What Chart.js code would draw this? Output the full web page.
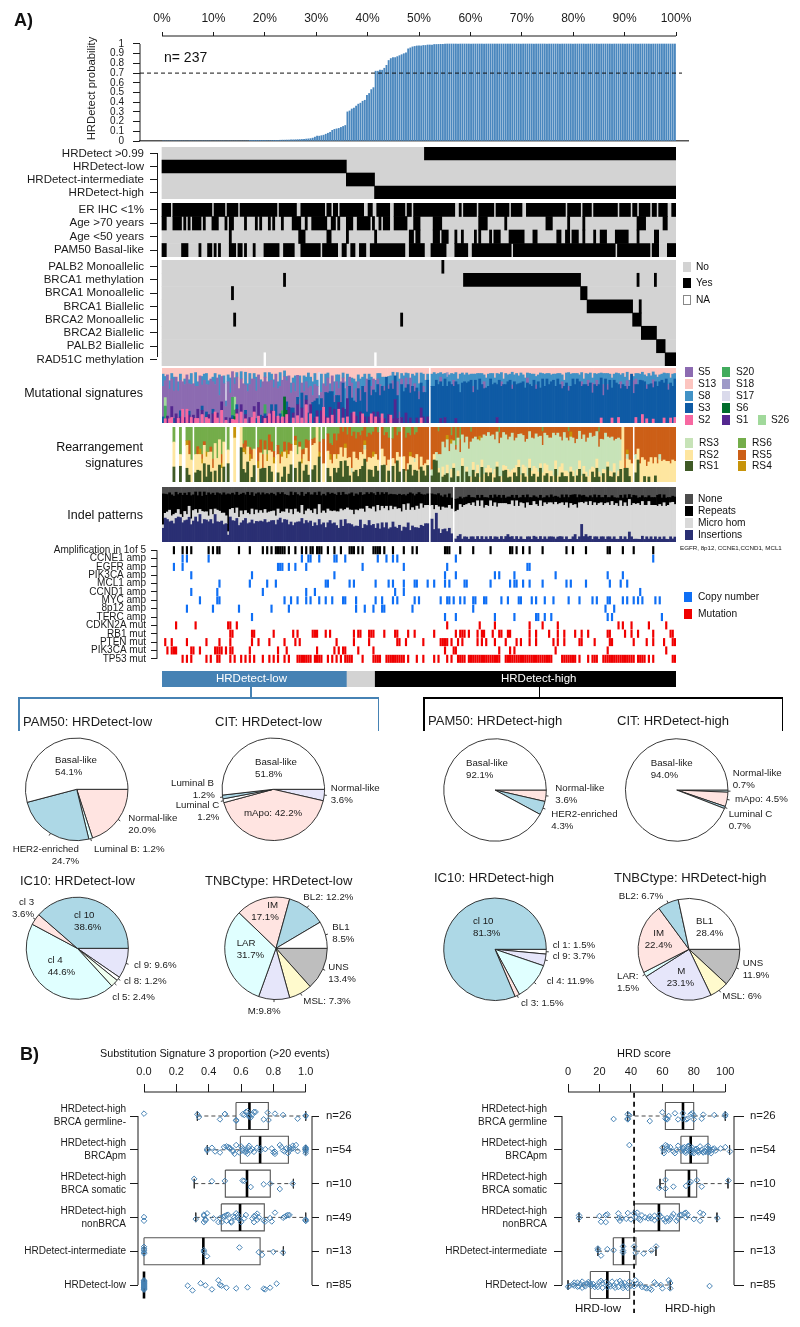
<!DOCTYPE html>
<html><head><meta charset="utf-8">
<style>
html,body{margin:0;padding:0;background:#fff}
#page{position:relative;width:800px;height:1327px;overflow:hidden;font-family:'Liberation Sans',Arial,sans-serif;color:#111}
canvas{position:absolute}
.t{position:absolute;white-space:nowrap;transform:translateY(-50%);line-height:1}
.s{position:absolute;box-sizing:border-box}
</style>
<script src="https://cdn.jsdelivr.net/npm/chart.js@4"></script>
</head><body><div id="page"></div>
<script>
// ===== DATA =====
const pctTicks=[0,10,20,30,40,50,60,70,80,90,100];
const probTicks=[0,.1,.2,.3,.4,.5,.6,.7,.8,.9,1];
const hrdProb=[0,0,0,0,0,0,0,0,0,0,0,0,0,0,0,0,0,0,0,0,0,0,0,0,0,0,0,0,0,0,0,0,0,0,0,0,0,0,0,0,
.001,.001,.002,.002,.003,.003,.004,.004,.005,.005,.006,.007,.007,.008,.008,.009,.009,.01,.01,.011,
.012,.013,.014,.015,.016,.017,.02,.022,.025,.03,.04,.05,.05,.055,.06,.07,.08,.09,.11,.12,
.125,.13,.14,.15,.16,.30,.31,.33,.34,.36,.38,.39,.41,.42,.47,.49,.53,.55,.72,.72,
.73,.73,.75,.78,.83,.85,.86,.86,.87,.88,.89,.90,.91,.95,.96,.97,.975,.98,.98,.98,
.985,.985,.99,.99,.99,.995,.995,.996,.997,.997,
1,1,1,1,1,1,1,1,1,1,
1,1,1,1,1,1,1,1,1,1,
1,1,1,1,1,1,1,1,1,1,
1,1,1,1,1,1,1,1,1,1,
1,1,1,1,1,1,1,1,1,1,
1,1,1,1,1,1,1,1,1,1,
1,1,1,1,1,1,1,1,1,1,
1,1,1,1,1,1,1,1,1,1,
1,1,1,1,1,1,1,1,1,1,
1,1,1,1,1,1,1,1,1,1,
1,1,1,1,1,1,1];

const group1Labels=['HRDetect >0.99','HRDetect-low','HRDetect-intermediate','HRDetect-high'];
const group1Runs=[[[121,237]],[[0,85]],[[85,98]],[[98,237]]];
const group2Labels=['ER IHC <1%','Age >70 years','Age <50 years','PAM50 Basal-like'];
const erRuns=[[0,4],[5,23],[24,29],[30,35],[36,53],[54,62],[64,75],[76,78],[79,81],[82,93],[95,97],[99,105],[107,112],[113,115],[116,135],[137,138],[139,145],[146,153],[154,160],[161,166],[168,186],[187,193],[194,198],[199,210],[211,216],[217,219],[220,225],[226,228],[229,233],[235,237]];
const age70Runs=[[0,2],[5,9],[10,11],[12,13],[14,18],[19,20],[23,26],[29,30],[31,33],[38,39],[43,44],[45,46],[49,50],[51,52],[55,56],[60,64],[66,67],[69,76],[78,80],[81,82],[85,88],[90,96],[97,98],[100,101],[102,105],[107,113],[116,119],[125,129],[146,150],[158,159],[177,180],[187,188],[194,195],[219,223],[231,233]];
const age50Runs=[[31,32],[63,66],[76,78],[85,86],[98,99],[114,116],[117,119],[125,128],[129,132],[135,136],[138,139],[144,145],[146,147],[151,152],[153,156],[160,167],[171,173],[182,184],[186,188],[189,192],[194,195],[199,200],[202,205],[209,215],[219,220],[227,229]];
const pam50Runs=[[0,2],[9,12],[17,18],[21,23],[24,25],[26,27],[31,34],[35,37],[38,39],[42,43],[47,54],[56,61],[64,73],[74,81],[83,85],[87,89],[91,94],[96,112],[114,121],[124,131],[135,141],[143,161],[162,209],[210,225],[226,229],[233,237]];
const group3Labels=['PALB2 Monoallelic','BRCA1 methylation','BRCA1 Monoallelic','BRCA1 Biallelic','BRCA2 Monoallelic','BRCA2 Biallelic','PALB2 Biallelic','RAD51C methylation'];
const group3Runs=[[[129,130]],[[56,57],[139,193],[219,220],[227,228]],[[32,33],[193,196]],[[196,217],[220,221]],[[33,34],[110,111],[217,221]],[[221,228]],[[228,232]],[[232,237]]];
const naRuns=[[47,47.8],[98,98.8]];

// per-column stack heights, one base-36 digit per column (groups of ten columns)
const S2="0101100102 0201011020 1100210301 0011203010 0120100102 0301010200 1020104010 0100201010 0201010010 0010002010 0100010000 0000000001 0000000000 0000000000 0000000000 0000000000 0000000000 0000000000 0000000000 0000000000 0010000100 1000000010 0201001000 0100101";
const S1="0010201010 1020102010 0102010201 0100102010 1010201010 2010102020 1030201010 1102010202 0102030201 0201010102 1010201310 1020100102 1010000010 1000010000 0000000000 0000100000 0000000000 0000000000 0000000000 0000000000 0000000000 0000000000 0000000000 0000000";
const S3="1000010010 0010000010 1001000000 0010100010 0001020100 1020100203 1020301203 3242045231 4135204312 5234164245 4365647350 6457564635 4560687786 7867687586 8675768757 6878678776 7867586787 6786786876 7687568768 7868776867 6785867678 6574868767 7867758686 7786767";
const S5="5467564654 6576475657 5746574654 6574657564 6756475657 4654657543 5463243521 3201313021 2131021302 1201302101 2010102031 1020301010 1000000010 0000100000 0001000010 0000001000 0100000010 0010000000 0000100100 0001001020 1002010000 0100200310 0001002000 0001000";
const S8="2102130210 1012031021 2101203012 1302102031 2013020102 1201302102 1203021312 2123021102 1201320121 1212012021 2120212023 1212021312 2210231212 1212121321 2112131212 2121212121 1312121212 2121312121 1212112321 2112121212 1212121212 2121210112 1212212121 1212121";
const S13="1213121312 2131213121 1312121213 1213131212 1212132121 1312121213 2121312112 1211211212 1121211212 1211112121 1121211111 1111211121 1210111111 1111112111 1111111112 1112111211 1111111211 1121111111 1111121111 1111211121 1111111211 1111121211 1112111121 1111211";
const S20sparse={1:3,32:5,33:2,47:2,55:1};
const S6sparse={56:7,33:1,57:1};
const S26sparse={1:2,33:4};
const S17sparse={29:9,72:5};
const S18sparse={84:1,131:1};

const RS1="0000030040 2310413205 1420204030 4030005324 0132041304 2042013025 1304024102 3052034102 2431541023 1345023142 0340214052 1302413203 2130145201 1201301040 2103120402 1201310231 1021402103 1201301201 0301211021 0130210021 3102031120 1302310124 0010100100 0000000";
const RS2="0000050030 4532324345 4343536353 3434053443 3435250434 4354243354 3543434254 4302345342 3424323243 3432423432 2323212323 2321232322 1212010102 0202101020 1012121211 2112101112 1212212212 1221122221 1212211211 1121211212 2111211121 1210233232 3432343334 3433343";
const RS3="0000000000 0000000000 0000000000 0000000000 0000000000 0000000000 0000000000 0000010000 0000000100 0001000000 0000000000 0000001000 0001102345 4656576765 6576768657 6757667687 7665767566 6757665766 7676576766 6576867667 6567656756 6500100010 0000000001 0000000";
const RS4="0000000000 0100100110 1000000100 0001000110 1000100010 0100010100 0100100010 0010000100 1000100000 0001000100 0000000000 0000100000 0000000000 0101000000 0000001000 0000000000 0000000000 0000000000 0000000010 0000000000 0000000000 0000100000 0000000000 0000000";
const RS5="0000000000 1020102011 0012000200 0000000120 1203241204 2102102032 2101212301 1020425243 3635465745 5463546475 6456475645 5765456476 7668756543 3241312322 2423232312 1213122123 2132212321 2312231222 1212312212 3212232122 1323122232 2306566564 6565756565 5655665";
const RS6="0000030070 2323435464 5647343636 5040000434 3545342342 3424353345 3243543232 2030232341 3201020213 1210212101 1021203021 1021202100 0000000100 0002040300 0010000000 0000010000 0000000000 0000010000 0000000100 0000000000 0100000000 0000000100 0000000000 0000000";
const rsPresent=[[5,6],[8,10],[11,14],[15,28],[28,29],[30,31],[33,34],[36,43],[44,52],[53,60],[61,68],[69,73],[74,75],[76,100],[101,105],[106,110],[111,123],[124,217],[218,237]];

const INS="4a97869a87 78968a7b69 8796a79867 2a78968797 7869787968 7968a79868 6787969786 7696857968 6586978657 6857696857 5767568657 4658475657 6780a5b635 5463012312 2122121212 1212212123 2212121122 1221212122 2122212112 3128232212 2122122121 1212142111 1212121212 1211212";
const MH="1234232312 3242433243 3243245343 1343435234 3435343434 3434243445 4543534545 5464555445 5646466547 6475756867 7686795877 7968786979 7780683a89 89a9099cbc ddcdcdcdcc cdcdcdcdcc ddcdcddcdc dcdcdcdcdd dcdcdddcdc ccdacdccdd cddcddcdcd cdcdcdcdcd dcdcdcdccd cdcddcd";
const REP="9876868678 6758676758 6867568778 b657687768 7667767667 6776877567 7676567667 6756766767 6757657667 6657566665 6565656556 6454665564 5450564654 5454044333 3332323243 3233432323 3232323433 3233232323 3232333434 4433323233 3323323232 3233323332 3233233344 3333223";
const NONE="2332332323 2323323232 3232323323 2323233232 3233232323 2332323332 3233233233 2323332323 3232333233 3233232332 3232333333 3333233323 3330333334 3434044444 4344434344 4343434344 4343443434 4344344343 4344343433 3434344343 4344344344 4343434334 4344344433 4344434";

const ampLabels=['Amplification in 1of 5','CCNE1 amp','EGFR amp','PIK3CA amp','MCL1 amp','CCND1 amp','MYC amp','8p12 amp','TERC amp','CDKN2A mut','RB1 mut','PTEN mut','PIK3CA mut','TP53 mut'];
const ampCols=[
[5,9,11,13,21,23,25,26,35,40,46,48,50,52,53,54,55,56,58,61,64,66,68,69,71,72,73,76,79,82,86,87,88,90,92,97,98,99,100,102,106,111,115,117,130,131,132,137,143,151,160,161,163,166,169,175,186,189,195,205,206,212,217,226],
[9,11,21,64,67,68,72,79,80,84,99,103,106,108,135,226],
[5,9,53,54,55,58,61,66,92,111,131,168,169],
[13,41,79,130,135,153,155,162,181,205,212],
[26,40,48,52,75,76,86,88,98,104,106,111,116,117,122,125,130,132,139,140,151,160,162,163,166,169,175,186,188,195,206,211,214],
[13,25,46,66,70,107,111,220],
[17,25,26,56,59,62,66,68,72,75,78,83,84,89,98,101,106,108,116,118,128,131,132,134,137,139,143,144,148,149,156,159,164,165,170,172,176,180,187,192,198,200,205,206,212,214,217,219,221,227,229],
[11,23,35,50,58,89,93,97,101,102,115,143,204,208],
[41,130,135,153,162,172,173,176,179,205,207,230],
[6,15,30,31,34,131,146,153,169,175,182,210,212,216,224,232],
[31,32,41,42,51,60,62,69,70,71,75,77,88,90,91,95,96,97,102,107,108,113,116,125,135,137,138,139,141,145,147,148,152,155,156,159,160,169,172,178,182,185,190,193,196,205,206,213,216,219,226,234,235],
[1,4,11,20,26,31,41,44,49,56,61,63,80,88,95,108,109,112,120,128,129,130,131,133,136,138,145,147,149,153,158,163,165,169,172,180,182,185,192,193,199,206,207,217,223,226,231,235,236],
[2,4,5,6,13,14,17,24,25,26,27,29,31,32,40,53,57,71,79,81,83,84,90,97,130,134,135,155,160,162,181,205,232],
[9,11,13,20,22,25,26,31,33,36,38,40,42,46,49,51,53,56,58,62,63,64,65,66,67,68,70,71,72,73,76,78,80,82,84,85,86,87,92,97,98,99,100,103,104,105,106,107,108,109,110,111,113,117,120,125,127,131,133,136,137,138,139,141,142,143,144,145,146,147,148,149,150,151,152,153,154,155,158,159,160,161,162,163,164,165,166,167,168,169,170,171,172,173,174,175,176,177,178,179,184,185,186,187,188,189,190,192,196,198,199,200,203,204,205,206,207,208,209,210,211,212,213,214,215,216,217,219,220,221,222,224,226,235,236]
];
const bandCounts=[85,13,139];

const pieData=[
 {cx:76.7,cy:789.3,r:51.7,ox:0,oy:690,title:'PAM50: HRDetect-low',tx:23,ty:722,vals:[20,1.2,24.7,54.1],cols:['#FFE4E1','#E0FFFF','#ADD8E6','#FFFFFF'],tk:[0,1,2],
  labels:[['Basal-like',165,212],['54.1%',165,248],['Normal-like',385,384],['20.0%',385,420],['HER2-enriched',38,478],['24.7%',155,514],['Luminal B: 1.2%',282,478]]},
 {cx:273.3,cy:789.3,r:51.7,ox:0,oy:690,title:'CIT: HRDetect-low',tx:215,ty:722,vals:[3.6,42.2,1.2,1.2,51.8],cols:['#E6E6FA','#FFE4E1','#FFFFFF','#ADD8E6','#FFFFFF'],tk:[0,2,3],
  labels:[['Basal-like',765,216],['51.8%',765,252],['Normal-like',992,296],['3.6%',992,332],['mApo: 42.2%',732,370],['Luminal B',513,280],['1.2%',578,316],['Luminal C',527,347],['1.2%',592,383]]},
 {cx:77.3,cy:948.3,r:51.5,ox:0,oy:690,title:'IC10: HRDetect-low',tx:20,ty:881,vals:[9.6,1.2,2.4,44.6,3.6,38.6],cols:['#E6E6FA','#FFFFFF','#F0FFF0','#E0FFFF','#FFE4E1','#ADD8E6'],tk:[0,1,2,4],
  labels:[['cl 10',222,676],['38.6%',222,712],['cl 9: 9.6%',402,825],['cl 8: 1.2%',372,874],['cl 5: 2.4%',337,921],['cl 4',143,810],['44.6%',143,846],['cl 3',57,637],['3.6%',36,673]]},
 {cx:276,cy:948.3,r:51.7,ox:0,oy:690,title:'TNBCtype: HRDetect-low',tx:205,ty:881,vals:[13.4,7.3,9.8,31.7,17.1,12.2,8.5],cols:['#BEBEBE','#FFFACD','#E6E6FA','#E0FFFF','#FFE4E1','#ADD8E6','#FFFFFF'],tk:[0,1,2,5,6],
  labels:[['IM',802,645],['17.1%',754,681],['BL2: 12.2%',910,622],['BL1',997,712],['8.5%',997,748],['UNS',985,832],['13.4%',985,868],['MSL: 7.3%',910,934],['M:9.8%',743,964],['LAR',710,760],['31.7%',710,796]]},
 {cx:495,cy:790,r:51.7,ox:400,oy:690,title:'PAM50: HRDetect-high',tx:428,ty:721,vals:[3.6,4.3,92.1],cols:['#FFE4E1','#ADD8E6','#FFFFFF'],tk:[0,1],
  labels:[['Basal-like',198,220],['92.1%',198,256],['Normal-like',466,295],['3.6%',466,331],['HER2-enriched',454,373],['4.3%',454,409]]},
 {cx:676.7,cy:790,r:51.7,ox:400,oy:690,title:'CIT: HRDetect-high',tx:617,ty:721,vals:[.7,4.5,.7,94],cols:['#E0FFFF','#FFE4E1','#ADD8E6','#FFFFFF'],tk:[0,1,2],
  labels:[['Basal-like',752,220],['94.0%',752,256],['Normal-like',998,250],['0.7%',998,286],['mApo: 4.5%',1005,328],['Luminal C',986,373],['0.7%',986,409]]},
 {cx:495,cy:949.3,r:51.7,ox:400,oy:690,title:'IC10: HRDetect-high',tx:434,ty:878,vals:[1.5,3.7,11.9,1.5,81.3],cols:['#FFFFFF','#E6E6FA','#E0FFFF','#FFE4E1','#ADD8E6'],tk:[0,1,2,3],
  labels:[['cl 10',219,693],['81.3%',219,729],['cl 1: 1.5%',458,766],['cl 9: 3.7%',458,800],['cl 4: 11.9%',440,875],['cl 3: 1.5%',363,939]]},
 {cx:689,cy:949.3,r:51.3,ox:400,oy:690,title:'TNBCtype: HRDetect-high',tx:614,ty:878,vals:[11.9,6,23.1,1.5,22.4,6.7,28.4],cols:['#BEBEBE','#FFFACD','#E6E6FA','#E0FFFF','#FFE4E1','#ADD8E6','#FFFFFF'],tk:[0,1,3,5],
  labels:[['BL1',888,693],['28.4%',888,729],['UNS',1028,820],['11.9%',1028,856],['MSL: 6%',967,920],['M',832,844],['23.1%',800,880],['LAR:',651,859],['1.5%',651,895],['IM',760,731],['22.4%',734,767],['BL2: 6.7%',656,619]]}
];

const boxNames1=[['HRDetect-high','BRCA germline-'],['HRDetect-high','BRCApm'],['HRDetect-high','BRCA somatic'],['HRDetect-high','nonBRCA'],'HRDetect-intermediate','HRDetect-low'];
const boxNames2=[['HRDetect-high','BRCA germline'],['HRDetect-high','BRCApm'],['HRDetect-high','BRCA somatic'],['HRDetect-high','nonBRCA'],'HRDetect-intermediate','HRDetect-low'];
const boxCounts=['n=26','n=54','n=10','n=49','n=13','n=85'];
const sig3Ticks=[0,.2,.4,.6,.8,1];
const hrdTicks=[0,20,40,60,80,100];
// low whisker, Q1, median, Q3, high whisker
const sig3Boxes=[[.33,.569,.652,.769,1],[.392,.596,.718,.893,1],[.311,.503,.637,.781,.924],[.32,.478,.594,.744,1],[0,0,.367,.718,.862],[0,0,0,0,0]];
const hrdBoxes=[[37.9,61.9,73.1,79.9,100],[60,71.8,78,89,102.7],[58.5,61.9,76.9,81.8,101.7],[7,42.2,57.8,70.8,94.7],[19,28.8,35,43.2,55.9],[0,14.2,25,39.2,65]];
// [value, vertical jitter in hundredths of a row]
const sig3Pts=[
[[0,-7],[.33,-5],[.34,3],[.47,10],[.5,-6],[.5,-6],[.57,12],[.61,-5],[.62,-3],[.63,-12],[.64,-14],[.65,-2],[.66,4],[.67,-4],[.68,-12],[.69,-12],[.74,10],[.765,-10],[.77,12],[.81,-7],[.86,-3],[.95,8],[1,0],[1,-1],[.57,14],[.65,2]],
[[.39,-2],[.39,2],[.42,-6],[.44,5],[.47,8],[.495,-8],[.51,-10],[.52,-8],[.53,-4],[.55,2],[.56,12],[.57,-14],[.59,8],[.6,-10],[.61,2],[.625,6],[.64,12],[.65,-12],[.66,2],[.67,-2],[.68,6],[.645,-6],[.72,-4],[.72,2],[.75,-2],[.79,-4],[.8,8],[.81,12],[.84,-14],[.85,-8],[.87,5],[.88,-4],[.89,10],[.9,-6],[.91,-3],[.92,-12],[.94,-14],[.95,4],[1,-4],[1,0],[1,4],[1,10],[1,-2],[.55,5],[.53,-6],[.61,-4],[.63,-1],[.7,-6],[.635,5],[.81,6],[.86,2],[.9,2],[.92,-4],[1,-7]],
[[.31,-14],[.42,-7],[.5,-8],[.61,-9],[.62,-8],[.66,10],[.74,2],[.78,0],[.84,16],[.92,0]],
[[0,-1],[0,10],[.32,5],[.37,-8],[.37,14],[.38,6],[.39,-12],[.38,9],[.43,3],[.46,14],[.47,2],[.48,14],[.49,-2],[.5,-4],[.51,-7],[.52,-8],[.54,12],[.54,15],[.55,-3],[.56,0],[.57,-12],[.58,-7],[.59,5],[.6,14],[.62,3],[.63,-7],[.67,3],[.68,14],[.69,-6],[.7,-11],[.71,0],[.7,7],[.74,9],[.75,12],[.78,2],[.79,12],[.81,-14],[.86,1],[.87,-2],[.88,-5],[.89,-7],[.9,-7],[1,6],[1,10],[1,10],[.37,-5],[.51,10],[.58,2],[.68,-3]],
[[0,-13],[0,-7],[0,-3],[0,3],[0,7],[.37,-3],[.37,2],[.39,15],[.59,-11],[.71,3],[.73,11],[.8,2],[.86,4]],
[[.27,2],[.3,16],[.35,-5],[.38,1],[.42,13],[.46,-14],[.47,0],[.48,2],[.51,8],[.57,10],[.64,7],[.74,11],[.75,13],[.78,8],[.82,-4],[0,-14],[0,-12],[0,-10],[0,-8],[0,-6],[0,-4],[0,-2],[0,0],[0,2],[0,4],[0,6],[0,8],[0,10],[0,12],[0,14]]
];
const hrdPts=[
[[29,9],[38,-5],[38,8],[39,-2],[52,15],[60,-11],[62,8],[63,8],[64,0],[68,-8],[70,10],[73,-8],[73,8],[75,10],[78,-5],[79,-8],[80,10],[85,8],[86,-4],[93,-3],[100,-5],[100,0],[76,8],[80,-2],[38,10],[63,10]],
[[39,-14],[60,-6],[61,2],[61,10],[62,-14],[63,-4],[64,0],[65,-8],[67,5],[68,10],[70,-12],[73,-2],[74,6],[75,3],[76,-10],[76,-4],[77,-12],[78,-2],[79,2],[79,8],[81,-2],[82,4],[83,8],[84,-10],[85,0],[86,6],[87,4],[88,-8],[89,-12],[89,-3],[90,4],[91,2],[92,-2],[93,-4],[94,2],[97,-4],[100,-8],[103,5],[73,-6],[78,8],[80,10],[83,3],[86,8],[89,8],[91,10],[69,0],[72,3],[74,-8],[75,9],[79,-6],[82,-3],[87.5,6],[90,-1],[63,-11]],
[[58,13],[62,-11],[62,15],[67,9],[75,7],[77,-1],[78,-5],[82,-10],[85,9],[102,-9]],
[[7,-6],[7,2],[20,-4],[21,13],[24,-7],[24,14],[25,-9],[32,-12],[32,3],[33,10],[34,2],[38,-13],[37,4],[42,-12],[44,-14],[43,0],[45,4],[47,-6],[49,0],[51,3],[53,3],[55,-5],[57,2],[58,-8],[59,-3],[61,6],[62,12],[63,2],[65,5],[66,-3],[67,-10],[69,10],[70,3],[71,-7],[72,-8],[74,-12],[75,-14],[76,-8],[75,0],[80,5],[84,-14],[84,10],[86,-10],[95,2],[40,6],[46,8],[52,-3],[64,10],[55,8]],
[[19,-8],[19,-3],[21,13],[25,-6],[29,-3],[35,-14],[35,-2],[35,4],[42,-14],[43,5],[48,7],[53,-2],[56,-14]],
[[0,5],[1,3],[3,-2],[4,2],[4,-7],[6,-7],[7,4],[8,-3],[9,-10],[10,0],[11,4],[12,-4],[13,-9],[14,-6],[15,2],[16,-3],[17,6],[18,2],[20,-9],[21,-12],[22,-5],[24,-8],[26,0],[27,4],[28,-10],[29,3],[31,-8],[32,6],[33,-12],[34,-5],[35,2],[36,-6],[37,4],[39,-10],[40,2],[43,-14],[44,-4],[46,-2],[47,6],[49,8],[50,10],[52,10],[53,14],[55,-8],[56,-2],[59,0],[60,10],[64,-14],[65,-6],[65,10],[90,3],[6,5],[9,8],[14,0],[19,6],[22,8],[25,6],[30,8],[35,9],[38,9],[42,4]]
];

// ===== LAYOUT HELPERS =====
const FONT="'Liberation Sans',Arial,sans-serif";
const INK='#1a1a1a';
const page=document.getElementById('page');
Chart.defaults.font.family=FONT;
Chart.defaults.color=INK;
Chart.defaults.animation=false;
Chart.defaults.plugins.legend.display=false;
Chart.defaults.plugins.tooltip.enabled=false;

Chart.register({id:'rAxis',afterDatasetsDraw(ch,_,o){
  const list=o.ids||[];const c=ch.ctx;
  for(let k=0;k<list.length;k++){
    const s=ch.scales[list[k]];const a=s.getPixelForTick(0),b=s.getPixelForTick(s.ticks.length-1);
    c.save();c.strokeStyle=INK;c.lineWidth=1;c.beginPath();
    if(s.isHorizontal()){const y=s.position==='top'?s.bottom:s.top;c.moveTo(a,y);c.lineTo(b,y);}
    else{const x=s.position==='left'?s.right:s.left;c.moveTo(x,a);c.lineTo(x,b);}
    c.stroke();c.restore();
  }
}});

function mount(x,y,w,h){const c=document.createElement('canvas');c.width=w;c.height=h;c.style.left=x+'px';c.style.top=y+'px';c.style.width=w+'px';c.style.height=h+'px';page.appendChild(c);return c;}
function label(text,x,y,size,extra){const d=document.createElement('div');d.className='t';d.textContent=text;d.style.left=x+'px';d.style.top=y+'px';d.style.fontSize=size+'px';if(extra)Object.assign(d.style,extra);page.appendChild(d);return d;}
function rlabel(text,right,y,size){const d=label(text,0,y,size);d.style.left='auto';d.style.right=(800-right)+'px';return d;}
function box(x,y,w,h,bg,border){const d=document.createElement('div');d.className='s';Object.assign(d.style,{left:x+'px',top:y+'px',width:w+'px',height:h+'px',background:bg||'transparent'});if(border)d.style.border=border;page.appendChild(d);return d;}
const tickGrid=n=>({display:true,drawOnChartArea:false,drawTicks:true,tickLength:n,color:INK,lineWidth:1,offset:false});
const setTicks=arr=>(s=>{s.ticks=arr.map(value=>({value}));});
const base={responsive:false,maintainAspectRatio:false,devicePixelRatio:1,events:[]};
const parseCols=s=>{const a=s.replace(/\s/g,'').split('').map(c=>parseInt(c,36));while(a.length<237)a.push(0);return a.slice(0,237);};
const sparseCols=m=>{const a=new Array(237).fill(0);for(const k in m)a[k]=m[k];return a;};
const COLS=Array.from({length:237},(_,i)=>i+1);

// ===== TOP PROBABILITY BARS =====
(function(){
  const pxPerCol=514/237, X0=85, W=635, H=170;
  const areaL=140, areaR=688, areaT=36, areaB=141;
  const min=-(162-areaL)/pxPerCol, max=(areaR-162)/pxPerCol;
  new Chart(mount(X0,0,W,H),{type:'bar',data:{datasets:[
    {type:'line',data:[{x:min,y:.7},{x:(682-162)/pxPerCol,y:.7}],borderColor:'#111',borderWidth:1,borderDash:[4,3],pointRadius:0},
    {type:'bar',data:hrdProb.map((v,i)=>({x:i+.5,y:v})),backgroundColor:'#4A87BE',barThickness:1.2}
  ]},options:{...base,layout:{padding:{top:0,left:0,right:X0+W-areaR,bottom:H-areaB-1}},
    plugins:{rAxis:{ids:['pct','y']}},
    scales:{
      x:{type:'linear',min,max,offset:false,position:'bottom',ticks:{display:false},grid:{display:false,offset:false},border:{display:true,color:'#555',width:1.4},afterFit:s=>{s.height=1;}},
      pct:{type:'linear',axis:'x',position:'top',offset:false,min:min/2.37,max:max/2.37,afterBuildTicks:setTicks(pctTicks),border:{display:false},grid:tickGrid(4),
        ticks:{font:{size:12},padding:6,autoSkip:false,maxRotation:0,callback:v=>v+'%'},afterFit:s=>{s.height=areaT;}},
      y:{type:'linear',min:0,max:(areaB-areaT)/97,afterBuildTicks:setTicks(probTicks),border:{display:false},grid:tickGrid(7),
        title:{display:true,text:'HRDetect probability',font:{size:11.3},padding:0},
        ticks:{font:{size:10},padding:9,autoSkip:false,callback:v=>String(v)},afterFit:s=>{s.width=areaL-X0;}}
    }}});
  label('n= 237',164,57,14);
})();

// ===== BINARY TRACKS =====
function track(top,bottom,names,runs,extra){
  const L=157,R=676,pad=24,h=bottom-top,rowH=h/names.length;
  const black=[];runs.forEach((rs,i)=>rs.forEach(r=>black.push({x:r,y:names[i]})));
  const ds=[];
  if(extra)ds.push({data:extra.map(r=>({x:r,y:names[names.length-1]})),backgroundColor:'#fff',barThickness:rowH,grouped:false});
  ds.push({data:black,backgroundColor:'#000',barThickness:rowH,grouped:false});
  ds.push({data:names.map(n=>({x:[0,237],y:n})),backgroundColor:'#D3D3D3',barThickness:rowH,grouped:false});
  new Chart(mount(0,top-pad,R,h+2*pad),{type:'bar',data:{labels:names,datasets:ds},options:{...base,indexAxis:'y',layout:{padding:{top:pad,bottom:pad}},
    scales:{x:{type:'linear',display:false,min:-(162-L)/(514/237),max:237},
      y:{type:'category',offset:true,border:{display:false},grid:tickGrid(7),ticks:{font:{size:11.5},padding:6,autoSkip:false},afterFit:s=>{s.width=L;}}}}});
}
track(147,199,group1Labels,group1Runs);
track(203,257,group2Labels,[erRuns,age70Runs,age50Runs,pam50Runs]);
track(260,366,group3Labels,group3Runs,naRuns);
box(156.5,153,1,204,INK);

// ===== STACKED SIGNATURE PANELS =====
function stack(top,h,series,mask){
  const raw=series.map(s=>s.vals);
  const norm=raw.map(()=>new Array(237).fill(null));
  for(let i=0;i<237;i++){
    const ok=!mask||mask.some(r=>i>=r[0]&&i<r[1]);
    const sum=raw.reduce((a,v)=>a+v[i],0);
    if(ok&&sum>0)raw.forEach((v,k)=>{norm[k][i]=v[i]>0?v[i]/sum:null;});
  }
  new Chart(mount(162,top,514,h),{type:'bar',data:{labels:COLS,datasets:series.map((s,k)=>({label:s.name,data:norm[k],backgroundColor:s.color,barPercentage:1,categoryPercentage:1}))},
    options:{...base,scales:{x:{stacked:true,display:false},y:{stacked:true,display:false,min:0,max:1}}}});
}
stack(368,55,[
  {name:'S2',color:'#F768A1',vals:parseCols(S2)},{name:'S1',color:'#54278F',vals:parseCols(S1)},
  {name:'S6',color:'#006D2C',vals:sparseCols(S6sparse)},{name:'S3',color:'#0F5BA5',vals:parseCols(S3)},
  {name:'S20',color:'#41AB5D',vals:sparseCols(S20sparse)},{name:'S26',color:'#A1D99B',vals:sparseCols(S26sparse)},
  {name:'S5',color:'#8C6BB1',vals:parseCols(S5)},{name:'S8',color:'#4292C6',vals:parseCols(S8)},
  {name:'S17',color:'#DADAEB',vals:sparseCols(S17sparse)},{name:'S18',color:'#9E9AC8',vals:sparseCols(S18sparse)},
  {name:'S13',color:'#FCC5C0',vals:parseCols(S13)}]);
stack(427,55,[
  {name:'RS1',color:'#3F5A26',vals:parseCols(RS1)},{name:'RS2',color:'#FEE6A0',vals:parseCols(RS2)},
  {name:'RS3',color:'#C7E3B8',vals:parseCols(RS3)},{name:'RS4',color:'#C7940A',vals:parseCols(RS4)},
  {name:'RS5',color:'#CC5F17',vals:parseCols(RS5)},{name:'RS6',color:'#74AD4A',vals:parseCols(RS6)}],rsPresent);
stack(487,55,[
  {name:'Insertions',color:'#2A2F73',vals:parseCols(INS)},{name:'Micro hom',color:'#D9D9D9',vals:parseCols(MH)},
  {name:'Repeats',color:'#000000',vals:parseCols(REP)},{name:'None',color:'#4D4D4D',vals:parseCols(NONE)}]);

// ===== AMPLIFICATION / MUTATION TRACKS =====
(function(){
  const L=157,R=676,T=546,B=663,pad=24;
  const colour=i=>i===0?'#000':i<9?'#0F6FF5':'#F00000';
  const ds=ampCols.map((cols,i)=>({data:cols.map(c=>({x:[c+.15,c+.85],y:ampLabels[i]})),backgroundColor:colour(i),barThickness:7.4,grouped:false}));
  new Chart(mount(0,T-pad,R,B-T+2*pad),{type:'bar',data:{labels:ampLabels,datasets:ds},options:{...base,indexAxis:'y',layout:{padding:{top:pad,bottom:pad}},
    plugins:{rAxis:{ids:['y']}},
    scales:{x:{type:'linear',display:false,min:-(162-L)/(514/237),max:237},
      y:{type:'category',offset:true,border:{display:false},grid:tickGrid(6),ticks:{font:{size:10},padding:5,autoSkip:false},afterFit:s=>{s.width=L;}}}}});
})();

// ===== GROUP BAND =====
new Chart(mount(162,671,514,16),{type:'bar',data:{labels:['n'],datasets:[
  {data:[bandCounts[0]],backgroundColor:'#4682B4'},{data:[bandCounts[1]],backgroundColor:'#D3D3D3'},{data:[bandCounts[2]],backgroundColor:'#000'}]},
  options:{...base,indexAxis:'y',datasets:{bar:{barPercentage:1,categoryPercentage:1}},scales:{x:{stacked:true,display:false,min:0,max:237},y:{stacked:true,display:false}}}});
label('HRDetect-low',216,679,11.5,{color:'#fff'});
label('HRDetect-high',501,679,11.5,{color:'#fff'});
// connectors
box(250,687,1.5,11,'#4682B4');box(18,697,361,1.5,'#4682B4');box(18,697,1.5,34,'#4682B4');box(377.5,697,1.5,34,'#4682B4');
box(538.5,687,1.5,11,'#000');box(423,697,360,1.5,'#000');box(423,697,1.5,34,'#000');box(781.5,697,1.5,34,'#000');

// ===== PIES =====
pieData.forEach(p=>{
  const x=Math.max(0,Math.round(p.cx-125)),y=Math.round(p.cy-95),w=250,h=190;
  new Chart(mount(x,y,w,h),{type:'pie',data:{labels:p.labels.map(l=>l[0]),datasets:[{data:p.vals,backgroundColor:p.cols,borderColor:'#222',borderWidth:.9}]},
    options:{...base,rotation:90,layout:{padding:{left:p.cx-p.r-x,right:w-(p.cx+p.r-x),top:p.cy-p.r-y,bottom:h-(p.cy+p.r-y)}}},
    plugins:[{id:'pieText',afterDraw(ch){
      const c=ch.ctx;c.save();c.textBaseline='middle';c.textAlign='left';c.fillStyle=INK;
      c.font='13px '+FONT;c.fillText(p.title,p.tx-x,p.ty-y);
      c.font='9.7px '+FONT;
      p.labels.forEach(l=>c.fillText(l[0],p.ox+l[1]/3-x,p.oy+l[2]/3-y));
      c.strokeStyle='#222';c.lineWidth=.9;
      p.tk.forEach(i=>{const a=ch.getDatasetMeta(0).data[i],m=(a.startAngle+a.endAngle)/2,r=a.outerRadius;
        c.beginPath();c.moveTo(a.x+Math.cos(m)*r,a.y+Math.sin(m)*r);c.lineTo(a.x+Math.cos(m)*r*1.05,a.y+Math.sin(m)*r*1.05);c.stroke();});
      c.restore();
    }}]});
});

// ===== BOX PLOTS =====
function boxChart(cfg){
  const {canvasX,areaL,areaR,zero,full,span,ticks,fmt,names,boxes,pts,canvasW,tickL,padL,tickR,padR,cut}=cfg;
  const top=1047,areaT=1092,areaB=1313,H=275+24,row=33.8;
  const ppu=(full-zero)/span;
  const min=-(zero-areaL)/ppu,max=span+(areaR-full)/ppu;
  const ds=[];
  const line=(d,c,w,dash)=>({data:d,showLine:true,pointRadius:0,borderColor:c,borderWidth:w,borderDash:dash||[],fill:false,clip:false});
  pts.forEach((arr,i)=>ds.push({data:arr.map(p=>({x:p[0],y:i+1+p[1]/100})),pointStyle:'rectRot',pointRadius:2.8,pointBorderWidth:1,pointBorderColor:'#4682B4',pointBackgroundColor:'rgba(0,0,0,0)',showLine:false}));
  if(cut!==undefined)ds.push(line([{x:cut,y:.31},{x:cut,y:6.83}],'#111',1.8,[5,4]));
  boxes.forEach((b,i)=>{
    const y=i+1,hw=.4,cap=.14;
    ds.push(line([{x:b[2],y:y-hw},{x:b[2],y:y+hw}],'#000',2.6));
    if(b[3]>b[1])ds.push(line([{x:b[1],y:y-hw},{x:b[3],y:y-hw},{x:b[3],y:y+hw},{x:b[1],y:y+hw},{x:b[1],y:y-hw}],'#555',1.1));
    if(b[1]>b[0])ds.push(line([{x:b[0],y},{x:b[1],y}],'#333',.9,[4,3]));
    if(b[4]>b[3])ds.push(line([{x:b[3],y},{x:b[4],y}],'#333',.9,[4,3]));
    if(b[4]>b[0]){ds.push(line([{x:b[0],y:y-cap},{x:b[0],y:y+cap}],'#333',1));ds.push(line([{x:b[4],y:y-cap},{x:b[4],y:y+cap}],'#333',1));}
  });
  const yScale=(pos,cb,tl,pd,w)=>({type:'linear',position:pos,reverse:true,min:1-(1116-areaT)/row,max:6+(areaB-1285)/row,afterBuildTicks:setTicks([1,2,3,4,5,6]),border:{display:false},grid:tickGrid(tl),
    ticks:{font:{size:pos==='left'?10:11.4,lineHeight:1.27},padding:pd,autoSkip:false,callback:cb},afterFit:s=>{s.width=w;}});
  new Chart(mount(canvasX,top,canvasW,H),{type:'scatter',data:{datasets:ds},options:{...base,layout:{padding:{bottom:H-(areaB-top)}},
    plugins:{rAxis:{ids:['x','y','y2']}},
    scales:{
      x:{type:'linear',position:'top',min,max,afterBuildTicks:setTicks(ticks),border:{display:false},grid:tickGrid(8),
        ticks:{font:{size:11},padding:5,autoSkip:false,maxRotation:0,callback:fmt},afterFit:s=>{s.height=areaT-top;}},
      y:yScale('left',v=>names[v-1],tickL,padL,areaL-canvasX),
      y2:yScale('right',v=>boxCounts[v-1],tickR,padR,canvasX+canvasW-areaR)
    }}});
}
boxChart({canvasX:0,canvasW:360,areaL:138,areaR:312,zero:144,full:305.7,span:1,ticks:sig3Ticks,fmt:v=>v.toFixed(1),names:boxNames1,boxes:sig3Boxes,pts:sig3Pts,tickL:8,padL:4,tickR:7,padR:7});
boxChart({canvasX:400,canvasW:400,areaL:562,areaR:734,zero:568,full:725.3,span:100,ticks:hrdTicks,fmt:v=>String(v),names:boxNames2,boxes:hrdBoxes,pts:hrdPts,tickL:8,padL:7,tickR:10,padR:6,cut:42});
label('Substitution Signature 3 proportion (>20 events)',100,1053,10.8);
label('HRD score',617,1053,11);
label('HRD-low',575,1309,11.5);
label('HRD-high',665,1309,11.5);

// ===== PANEL LETTERS, SIDE LABELS, LEGENDS =====
label('A)',14,20,18,{fontWeight:'bold'});
label('B)',20,1054,18,{fontWeight:'bold'});
rlabel('Mutational signatures',143,393,12.5);
rlabel('Rearrangement',143,447,12.5);
rlabel('signatures',143,463,12.5);
rlabel('Indel patterns',143,515,12.5);
function legend(items){items.forEach(i=>{const h=i.h||10;box(i.sx,i.y-h/2,i.sw||8,h,i.c,i.b);label(i.t,i.tx,i.y,i.f||10.2);});}
legend([{t:'No',sx:683,tx:696,y:267,c:'#D3D3D3'},{t:'Yes',sx:683,tx:696,y:283,c:'#000'},{t:'NA',sx:683,tx:696,y:300,c:'#fff',b:'1px solid #888'}]);
legend([
 {t:'S5',sx:685,tx:698,y:372,c:'#8C6BB1'},{t:'S13',sx:685,tx:698,y:384,c:'#FCC5C0'},{t:'S8',sx:685,tx:698,y:396,c:'#4292C6'},{t:'S3',sx:685,tx:698,y:408,c:'#0F5BA5'},{t:'S2',sx:685,tx:698,y:420,c:'#F768A1'},
 {t:'S20',sx:722,tx:736,y:372,c:'#41AB5D'},{t:'S18',sx:722,tx:736,y:384,c:'#9E9AC8'},{t:'S17',sx:722,tx:736,y:396,c:'#DADAEB'},{t:'S6',sx:722,tx:736,y:408,c:'#006D2C'},{t:'S1',sx:722,tx:736,y:420,c:'#54278F'},
 {t:'S26',sx:758,tx:771,y:420,c:'#A1D99B'}]);
legend([
 {t:'RS3',sx:685,tx:699,y:443,c:'#C7E3B8'},{t:'RS2',sx:685,tx:699,y:455,c:'#FEE6A0'},{t:'RS1',sx:685,tx:699,y:466,c:'#3F5A26'},
 {t:'RS6',sx:738,tx:752,y:443,c:'#74AD4A'},{t:'RS5',sx:738,tx:752,y:455,c:'#CC5F17'},{t:'RS4',sx:738,tx:752,y:466,c:'#C7940A'}]);
legend([
 {t:'None',sx:685,tx:698,y:499,c:'#4D4D4D'},{t:'Repeats',sx:685,tx:698,y:511,c:'#000'},{t:'Micro hom',sx:685,tx:698,y:523,c:'#D9D9D9'},{t:'Insertions',sx:685,tx:698,y:535,c:'#2A2F73'}]);
label('EGFR, 8p12, CCNE1,CCND1, MCL1',680,548,6.2);
legend([{t:'Copy number',sx:684,tx:698,y:597,c:'#0F6FF5'},{t:'Mutation',sx:684,tx:698,y:614,c:'#F00000'}]);
</script></body></html>
